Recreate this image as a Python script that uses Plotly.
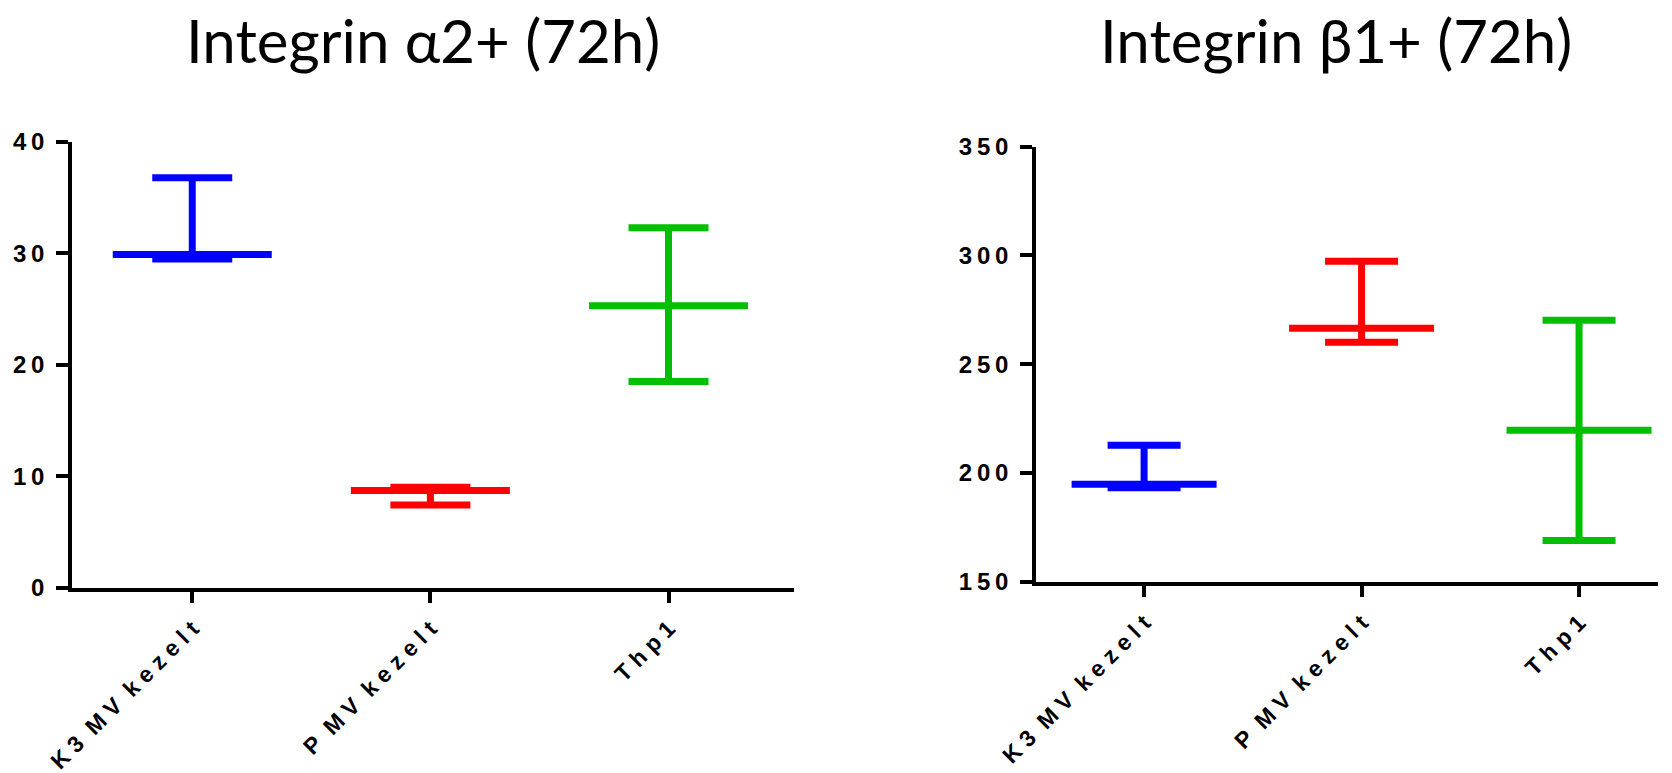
import plotly.graph_objects as go

# ---------------- data ----------------
categories = ["K3 MV kezelt", "P MV kezelt", "Thp1"]
colors = ["#0000FF", "#FF0000", "#00C000"]

alpha2_mean = [29.9, 8.7, 25.3]
alpha2_upper = [36.8, 9.0, 32.3]
alpha2_lower = [29.5, 7.4, 18.5]

beta1_mean = [194.8, 266.5, 219.6]
beta1_upper = [212.7, 297.3, 270.2]
beta1_lower = [193.2, 260.1, 169.0]

alpha2_ticks = [0, 10, 20, 30, 40]
beta1_ticks = [150, 200, 250, 300, 350]

titles = ["Integrin α2+ (72h)", "Integrin β1+ (72h)"]

W, H = 1672, 773
THIN = "\u2009"


def spaced_num(s):
    return THIN.join(list(s))


def spaced_cat(s):
    # GraphPad-like letter spacing for category labels
    return "\u00a0 ".join(" ".join(list(w)) for w in s.split(" "))


fig = go.Figure()


def add_panel(means, uppers, lowers, xa, ya, mean_px, cap_px):
    for i, cat in enumerate(categories):
        fig.add_trace(go.Scatter(
            x=[cat], y=[means[i]], xaxis=xa, yaxis=ya, mode="markers",
            # plotly's line-ew symbol is 1.4 * size long
            marker=dict(symbol="line-ew", size=mean_px / 1.4,
                        line=dict(width=7, color=colors[i]), color=colors[i]),
            error_y=dict(type="data", symmetric=False,
                         array=[uppers[i] - means[i]],
                         arrayminus=[means[i] - lowers[i]],
                         width=cap_px / 2, thickness=7, color=colors[i]),
            showlegend=False, hoverinfo="skip", cliponaxis=False))


add_panel(alpha2_mean, alpha2_upper, alpha2_lower, "x", "y", 159, 80)
add_panel(beta1_mean, beta1_upper, beta1_lower, "x2", "y2", 145, 73)

yfont = dict(family="Liberation Sans, Arial", size=24, color="black", weight="bold")
xfont = dict(family="Liberation Sans, Arial", size=23, color="black", weight="bold")

common_x = dict(type="category", categoryorder="array", categoryarray=categories,
                tickvals=categories, ticktext=[spaced_cat(c) for c in categories],
                tickangle=-45, showline=True, linewidth=3.5, linecolor="black",
                ticks="outside", ticklen=12, tickwidth=3.5, tickcolor="black",
                showgrid=False, zeroline=False, tickfont=xfont, automargin=False,
                ticklabelstandoff=3)
common_y = dict(showline=True, linewidth=3.5, linecolor="black",
                ticks="outside", ticklen=12, tickwidth=3.5, tickcolor="black",
                showgrid=False, zeroline=False, tickfont=yfont, automargin=False,
                ticklabelstandoff=7)

fig.update_layout(
    width=W, height=H, margin=dict(l=0, r=0, t=0, b=0),
    paper_bgcolor="white", plot_bgcolor="white",
    xaxis=dict(common_x, domain=[72 / W, 794 / W], range=[-0.505, 2.527], anchor="y"),
    yaxis=dict(common_y, domain=[1 - 587.5 / H, 1 - 142 / H], range=[0, 40], anchor="x",
               tickvals=alpha2_ticks, ticktext=[spaced_num(str(t)) for t in alpha2_ticks]),
    xaxis2=dict(common_x, domain=[1036 / W, 1658 / W], range=[-0.497, 2.363], anchor="y2"),
    yaxis2=dict(common_y, domain=[1 - 581.7 / H, 1 - 146.7 / H], range=[150, 350], anchor="x2",
                tickvals=beta1_ticks, ticktext=[spaced_num(str(t)) for t in beta1_ticks]),
    annotations=[
        dict(text=titles[0], x=422.5 / W, y=1 - 40 / H, xref="paper", yref="paper",
             xanchor="center", yanchor="middle", showarrow=False,
             font=dict(family="Lato", size=60, color="black")),
        dict(text=titles[1], x=1336 / W, y=1 - 40 / H, xref="paper", yref="paper",
             xanchor="center", yanchor="middle", showarrow=False,
             font=dict(family="Lato", size=60, color="black")),
    ],
)

fig.write_html("out.html")
